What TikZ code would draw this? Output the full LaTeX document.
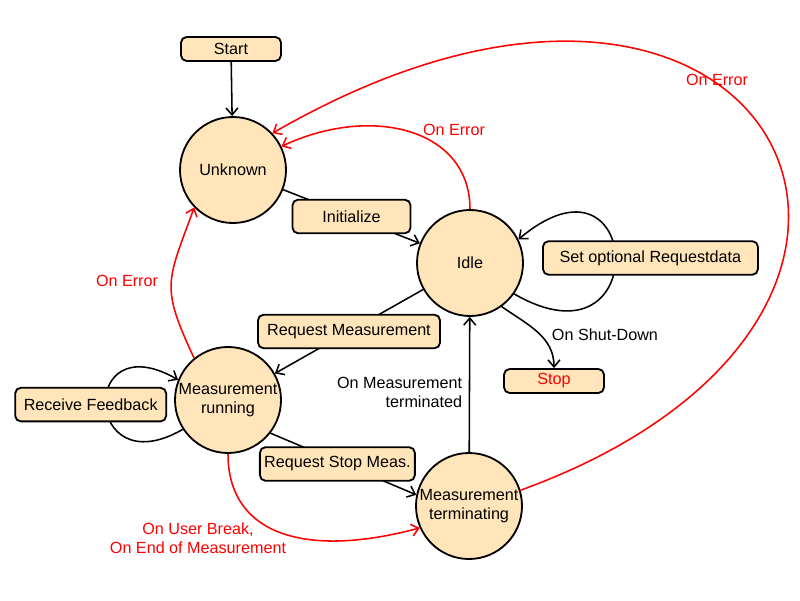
\documentclass[tikz,border=0pt]{standalone}
\usepackage{fontspec}
\setmainfont{Liberation Sans}
\usetikzlibrary{arrows.meta}
\definecolor{statefill}{RGB}{255,229,185}
\definecolor{errred}{RGB}{255,0,0}
\tikzstyle{state}=[draw,fill=statefill,circle,line width=1.3pt,minimum size=2.65cm,inner sep=0pt,align=center]
\tikzstyle{action}=[draw,fill=statefill,rounded corners=4pt,line width=1.3pt,minimum height=0.84cm,inner xsep=0pt]
\tikzstyle{terminal}=[action,minimum height=0.6cm,minimum width=2.5cm]
\tikzstyle{trans}=[->,line width=1.1pt]
\tikzstyle{onerror}=[draw=errred]

\begin{document}
\begin{tikzpicture}[font=\fontsize{11.5}{13.5}\selectfont,>={Straight Barb[length=5pt,width=8.5pt]}]
  \useasboundingbox (0,0) rectangle (20,15);
  % states
  \node[terminal] (start) at (5.775,13.775) {Start};
  \node[state] (unknown) at (5.825,10.75) {Unknown};
  \node[state] (idle) at (11.75,8.425) {Idle};
  \node[state] (running) at (5.7,5.0) {Measurement\\running};
  \node[state] (term) at (11.725,2.35) {Measurement\\terminating};
  \node[terminal,text=errred] (stop) at (13.85,5.475) {Stop};
  % transitions
  \draw[trans] (start) -- (unknown);
  \draw[trans] (unknown) -- node[action,minimum width=2.95cm] (init) {Initialize} (idle);
  \draw[trans] (idle.-35) .. controls +(-30:4.05) and +(40:4.05) ..
    node[action,minimum width=5.375cm,xshift=0.875cm] (setopt) {Set optional Requestdata} (idle.26);
  \draw[trans] (idle) -- node[action,minimum width=4.55cm] (reqmeas) {Request Measurement} (running);
  \draw[trans] (running.213) .. controls +(210:2.875) and +(150:2.875) ..
    node[action,minimum width=3.775cm,xshift=-0.375cm] (feedback) {Receive Feedback} (running.158);
  \draw[trans] (running.-38) -- node[action,minimum width=3.875cm,xshift=-0.15cm] (reqstop) {Request Stop Meas.} (term.168);
  \draw[trans] (term) -- (idle);
  \draw[trans] (idle.-54) to[out=-35,in=90] (stop);
  % errors
  \draw[trans,onerror] (idle.north) .. controls +(90:2) and +(25:2.5) .. (unknown.26);
  \draw[trans,onerror] (term.17) .. controls +(20:13.0) and +(30:14.4) .. (unknown.43);
  \draw[trans,onerror] (running.129) .. controls +(115:2) and +(250:2) .. (unknown.224);
  \draw[trans,onerror] (running.south) .. controls +(-90:2) and +(195:3) .. (term.204);
  % labels
  \node[text=errred] (err1) at (11.35,11.75) {On Error};
  \node[text=errred] (err2) at (17.925,13.0) {On Error};
  \node[text=errred] (err3) at (3.175,7.975) {On Error};
  \node[text=errred,align=center] (brk) at (4.95,1.55) {On User Break,\\On End of Measurement};
  \node[anchor=west] (shut) at (13.675,6.625) {On Shut-Down};
  \node[anchor=east,align=right] (done) at (11.675,5.2) {On Measurement\\terminated};
\end{tikzpicture}
\end{document}
